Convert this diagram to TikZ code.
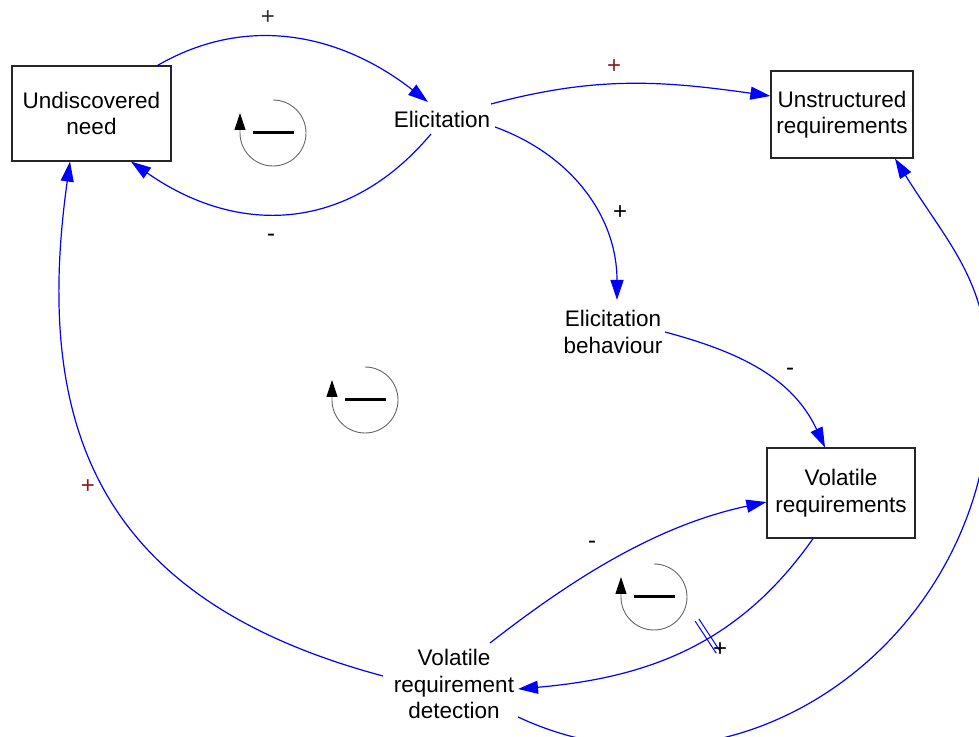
\documentclass[tikz,border=0pt]{standalone}
\usepackage{fontspec}
\setmainfont{Liberation Sans}
\usetikzlibrary{arrows.meta,calc}
\definecolor{sgnred}{RGB}{140,30,30}
\begin{document}
\begin{tikzpicture}[x=1pt,y=1pt,
  lbl/.style={font=\fontsize{22.5}{26.5}\selectfont, align=center, inner sep=0pt},
  stock/.style={lbl, draw=black!85, line width=1.2pt},
  link/.style={draw=blue, line width=1.2pt, -{Triangle[length=20pt,width=13pt]}},
  sgn/.style={font=\fontsize{24}{24}\selectfont, inner sep=0pt},
  balloop/.pic={
    \draw[black!60, line width=0.9pt, -{Triangle[length=17pt,width=11pt,color=black]}]
      (0,33) arc[start angle=90,end angle=-180,radius=33] -- ++(0,20);
    \draw[black, line width=3pt] (-20,0) -- (21,0);
  }
]
\useasboundingbox (0,0) rectangle (979,736);
\clip (0,0) rectangle (979,736);

% nodes
\node[stock, minimum width=159pt, minimum height=95pt] (un) at (91.5,622.5) {Undiscovered\\need};
\node[lbl] (el) at (442,617) {Elicitation};
\node[stock, minimum width=142pt, minimum height=87pt] (ur) at (842,621.5) {Unstructured\\requirements};
\node[lbl] (eb) at (613,404) {Elicitation\\behaviour};
\node[stock, minimum width=148pt, minimum height=90pt] (vr) at (841,243) {Volatile\\requirements};
\node[lbl] (vd) at (454,52) {Volatile\\requirement\\detection};

% connectors
\draw[link] ([xshift=-14pt]un.north east) to[out=30,in=142] ($(el.center)+(-14,17)$);
\draw[link] ($(el.center)+(-11,-15)$) to[out=230,in=-35,looseness=1.1] ([xshift=39.5pt]un.south);
\draw[link] ($(el.center)+(49,15)$) to[out=15,in=172] ([yshift=18.5pt]ur.west);
\draw[link] ($(el.center)+(53,-8)$) to[out=-20,in=90] ($(eb.center)+(4,32)$);
\draw[link] ($(eb.center)+(52,0)$) to[out=-15,in=115] ([xshift=-16pt]vr.north);
\draw[link] ([xshift=-28pt]vr.south) to[out=235,in=5] ($(vd.center)+(64,-5)$);
\draw[link] ($(vd.center)+(36,41)$) to[out=38,in=192,looseness=0.9] ([yshift=-9pt]vr.west);
\draw[link] ($(vd.center)+(-71,8)$) to[out=165,in=-98,looseness=1.2] ([xshift=-21.5pt]un.south);
\coordinate (r9) at (990,346);
\draw[link] ($(vd.center)+(64,-33)$) to[out=-25,in=-90,looseness=1.1] (r9) to[out=90,in=-58,looseness=1.1] ([xshift=53pt]ur.south);

% delay mark
\draw[blue, line width=1pt] (695.2,114.8) -- (716.2,82.8);
\draw[blue, line width=1pt] (698.8,117.2) -- (719.8,85.2);

% polarity signs
\node[sgn, text=black!80] (s1) at (268,718) {+};
\node[sgn] (s2) at (271,498) {-};
\node[sgn, text=sgnred] (s3) at (614,669) {+};
\node[sgn] (s4) at (620,523) {+};
\node[sgn] (s5) at (790,364) {-};
\node[sgn] (s6) at (592,191) {-};
\node[sgn] (s7) at (720,86) {+};
\node[sgn, text=sgnred] (s8) at (88,249) {+};
\node[sgn] (s9) at (985,196) {+};

% loop symbols
\pic at (273,603) {balloop};
\pic at (365,336) {balloop};
\pic at (654,139) {balloop};
\end{tikzpicture}
\end{document}
